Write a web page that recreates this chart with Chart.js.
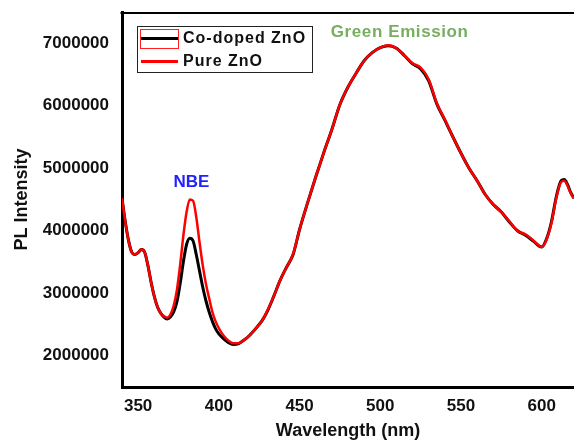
<!DOCTYPE html>
<html>
<head>
<meta charset="utf-8">
<script src="https://cdn.jsdelivr.net/npm/chart.js@4/dist/chart.umd.min.js"></script>
<style>
  html, body { margin: 0; padding: 0; background: #fff; overflow: hidden; }
  #wrap { width: 574px; height: 442px; }
</style>
</head>
<body>
<div id="wrap"><canvas id="c" width="574" height="442"></canvas></div>
<script>
// ---- data ----
const wavelength = [340,342,344,346,348,350,352,354,356,358,360,362,364,366,368,370,372,374,376,378,380,382,384,386,388,390,392,394,396,398,400,403,406,409,412,415,418,421,424,427,430,434,438,442,446,450,455,460,465,470,475,480,485,490,495,500,505,510,515,520,525,530,535,540,545,550,555,560,565,570,575,580,585,590,595,600,603,606,609,612,614,616,618,620];

const coDopedZnO = [4.52,4.15,3.85,3.66,3.62,3.65,3.70,3.66,3.45,3.18,2.95,2.78,2.68,2.62,2.59,2.62,2.70,2.86,3.15,3.50,3.78,3.88,3.84,3.62,3.36,3.10,2.88,2.70,2.55,2.43,2.35,2.27,2.21,2.18,2.19,2.24,2.30,2.38,2.47,2.57,2.71,2.95,3.21,3.42,3.62,4.02,4.45,4.86,5.25,5.62,6.02,6.30,6.52,6.72,6.85,6.93,6.96,6.92,6.80,6.67,6.59,6.40,6.03,5.77,5.50,5.24,5.00,4.80,4.58,4.42,4.30,4.14,4.00,3.93,3.83,3.74,3.87,4.14,4.54,4.80,4.82,4.74,4.61,4.52].map(v => v * 1e6);

const pureZnO = [4.52,4.15,3.85,3.66,3.62,3.65,3.70,3.66,3.45,3.18,2.95,2.78,2.68,2.63,2.61,2.66,2.80,3.05,3.45,3.92,4.30,4.50,4.48,4.22,3.82,3.45,3.15,2.92,2.70,2.55,2.44,2.32,2.24,2.20,2.20,2.24,2.30,2.38,2.47,2.57,2.72,2.95,3.21,3.42,3.63,4.02,4.45,4.86,5.25,5.62,6.02,6.30,6.52,6.72,6.85,6.93,6.97,6.92,6.80,6.68,6.61,6.42,6.04,5.78,5.50,5.24,5.00,4.80,4.58,4.42,4.30,4.15,4.00,3.94,3.84,3.74,3.86,4.12,4.52,4.78,4.80,4.72,4.60,4.52].map(v => v * 1e6);

const xTicks = [350, 400, 450, 500, 550, 600];
const yTicks = [2000000, 3000000, 4000000, 5000000, 6000000, 7000000];
const seriesLabels = ['Co-doped ZnO', 'Pure ZnO'];
const annotations = [
  { text: 'NBE', x: 383, y: 4780000, color: '#2222ff', spacing: '0px' },
  { text: 'Green Emission', x: 512, y: 7180000, color: '#79ad60', spacing: '0.6px' }
];

const FONT = '"Liberation Sans", Arial, sans-serif';

const framePlugin = {
  id: 'frame',
  afterDraw(chart) {
    const { ctx, chartArea, scales } = chart;
    ctx.save();
    // top border
    ctx.strokeStyle = '#000';
    ctx.lineWidth = 2;
    ctx.beginPath();
    ctx.moveTo(chartArea.left - 1.5, chartArea.top + 1);
    ctx.lineTo(chartArea.right + 2, chartArea.top + 1);
    ctx.stroke();

    // annotations
    ctx.font = 'bold 17px ' + FONT;
    ctx.textAlign = 'center';
    ctx.textBaseline = 'middle';
    annotations.forEach(a => {
      ctx.fillStyle = a.color;
      if ('letterSpacing' in ctx) ctx.letterSpacing = a.spacing;
      ctx.fillText(a.text, scales.x.getPixelForValue(a.x), scales.y.getPixelForValue(a.y));
    });

    // legend
    const lx = 137.5, ly = 26.5, lw = 175, lh = 46;
    ctx.fillStyle = '#fff';
    ctx.fillRect(lx, ly, lw, lh);
    ctx.strokeStyle = '#222';
    ctx.lineWidth = 1;
    ctx.strokeRect(lx, ly, lw, lh);
    const ds = chart.data.datasets;
    // item 1
    ctx.strokeStyle = '#ff2020';
    ctx.lineWidth = 1;
    ctx.strokeRect(140.5, 29.5, 38, 19);
    ctx.strokeStyle = ds[0].borderColor;
    ctx.lineWidth = 3;
    ctx.beginPath(); ctx.moveTo(141, 38.5); ctx.lineTo(178, 38.5); ctx.stroke();
    // item 2
    ctx.strokeStyle = ds[1].borderColor;
    ctx.beginPath(); ctx.moveTo(141, 61.5); ctx.lineTo(178, 61.5); ctx.stroke();
    ctx.fillStyle = '#111';
    ctx.font = 'bold 16px ' + FONT;
    ctx.textAlign = 'left';
    if ('letterSpacing' in ctx) ctx.letterSpacing = '1px';
    ctx.fillText(ds[0].label, 183, 39);
    ctx.fillText(ds[1].label, 183, 62);
    ctx.restore();
  }
};

new Chart(document.getElementById('c'), {
  type: 'line',
  data: {
    labels: wavelength,
    datasets: [
      {
        label: seriesLabels[0],
        data: wavelength.map((w, i) => ({ x: w, y: coDopedZnO[i] })),
        borderColor: '#000000',
        borderWidth: 3,
        pointRadius: 0,
        cubicInterpolationMode: 'monotone',
        order: 1
      },
      {
        label: seriesLabels[1],
        data: wavelength.map((w, i) => ({ x: w, y: pureZnO[i] })),
        borderColor: '#ff0000',
        borderWidth: 2.5,
        pointRadius: 0,
        cubicInterpolationMode: 'monotone',
        order: 0
      }
    ]
  },
  options: {
    responsive: false,
    animation: false,
    devicePixelRatio: 1,
    layout: { padding: { top: 12, left: 0, right: 0, bottom: 0 } },
    plugins: { legend: { display: false }, tooltip: { enabled: false } },
    scales: {
      x: {
        type: 'linear',
        min: 340,
        max: 620,
        grid: { display: false, drawTicks: false },
        border: { display: true, color: '#000', width: 3 },
        afterBuildTicks: s => { s.ticks = xTicks.map(v => ({ value: v })); },
        afterFit: s => { s.height = 55; s.paddingLeft = 0; s.paddingRight = 0; },
        ticks: {
          padding: 9,
          color: '#111',
          font: { family: FONT, size: 17, weight: 'bold' },
          callback: v => String(v),
          maxRotation: 0
        },
        title: {
          display: true,
          text: 'Wavelength (nm)',
          color: '#111',
          font: { family: FONT, size: 18, weight: 'bold' },
          padding: { top: 0, bottom: 0 }
        }
      },
      y: {
        type: 'linear',
        min: 1500000,
        max: 7500000,
        grid: { display: false, drawTicks: false },
        border: { display: true, color: '#000', width: 3 },
        afterBuildTicks: s => { s.ticks = yTicks.map(v => ({ value: v })); },
        afterFit: s => { s.width = 122; s.paddingTop = 0; s.paddingBottom = 0; },
        ticks: {
          padding: 13,
          color: '#111',
          font: { family: FONT, size: 17, weight: 'bold' },
          callback: v => String(v)
        },
        title: {
          display: true,
          text: 'PL Intensity',
          color: '#111',
          font: { family: FONT, size: 18, weight: 'bold' },
          padding: { top: 11, bottom: 0 }
        }
      }
    }
  },
  plugins: [framePlugin]
});
</script>
</body>
</html>
